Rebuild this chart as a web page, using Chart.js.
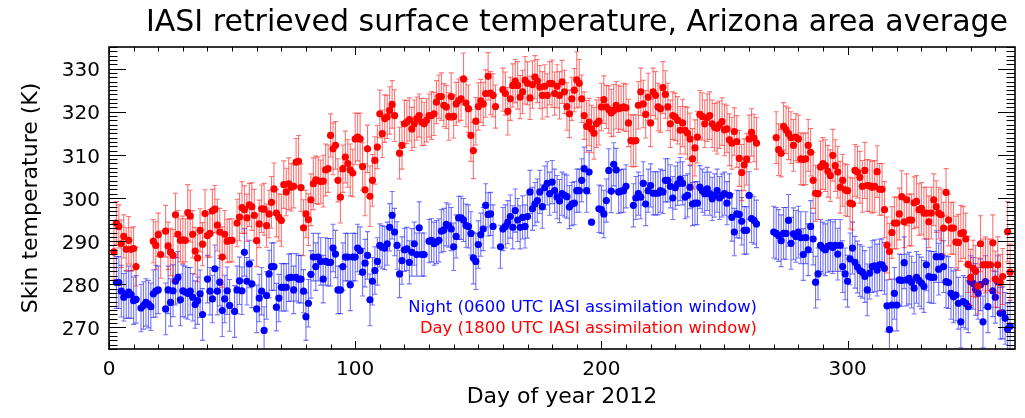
<!DOCTYPE html>
<html>
<head>
<meta charset="utf-8">
<script src="https://cdn.jsdelivr.net/npm/chart.js@4.4.1/dist/chart.umd.min.js"></script>
<style>
  html, body { margin: 0; padding: 0; background: #fff; }
  canvas { display: block; }
</style>
</head>
<body>
<canvas id="chart" width="1025" height="418"></canvas>
<script>
// Text drawn on the figure
const chartTitle = 'IASI retrieved surface temperature, Arizona area average';
const xAxisTitle = 'Day of year 2012';
const yAxisTitle = 'Skin temperature (K)';
const nightLabel = 'Night (0600 UTC IASI assimilation window)';
const dayLabel = 'Day (1800 UTC IASI assimilation window)';

// Axis ranges and labelled ticks
const xRange = [0, 368];
const yRange = [265, 335];
const xTicks = [0, 100, 200, 300];
const yTicks = [270, 280, 290, 300, 310, 320, 330];

// Night (0600 UTC) skin temperature, K, one value per day of year (null = no retrieval)
const nightTemps = [
  null, null, 280.4, 280.4, 278.4, 277.0, 277.6, 278.2, 277.6, 276.2,
  276.5, null, 274.5, 275.1, 275.8, 275.4, 274.8, 277.8, 278.4, 278.7,
  null, null, 274.3, 278.7, 275.8, 278.5, 280.7, 281.6, 276.4, 278.5,
  278.2, 277.9, 278.4, 277.0, 275.3, 276.2, 277.8, 273.0, null, 281.2,
  278.4, 276.6, 283.6, 278.4, 280.5, 273.9, 276.6, 278.5, 275.1, null,
  273.7, 278.7, 280.8, 278.5, 287.4, 280.7, 284.7, 280.1, null, 274.3,
  276.8, 278.4, 269.3, 277.4, 282.4, 284.1, 284.1, 274.7, 276.8, 279.3,
  279.3, 279.3, 281.5, 281.6, 278.7, 281.6, 281.2, 281.2, 278.4, 272.5,
  275.6, 282.3, 286.3, 284.1, 286.3, 285.3, 281.2, 285.3, 285.1, 285.1,
  288.4, 287.0, 278.7, 278.7, 284.1, 286.3, 286.3, 279.9, 286.3, 286.3,
  288.4, 287.8, 282.8, 284.9, 286.7, 276.4, 280.7, 283.2, 285.3, 289.0,
  288.6, 288.4, 289.4, 293.2, 296.0, 292.1, 289.0, 282.4, 285.5, 288.0,
  288.2, 285.1, 287.4, 289.4, 286.9, 293.1, 286.9, 286.9, null, 290.0,
  290.2, 289.4, 289.8, 290.2, 292.3, 292.6, 293.9, 293.6, 292.8, 288.7,
  291.1, 295.4, 295.4, 294.9, 293.6, 293.4, 291.8, 286.1, 285.3, 289.2,
  291.5, 292.8, 298.3, 296.2, 296.3, 293.4, null, null, 288.7, 292.8,
  293.4, 294.4, 295.7, 293.2, 297.1, 294.9, 293.2, 295.5, 293.4, 295.7,
  301.4, 297.5, 298.6, 299.4, 301.4, 298.0, 302.4, 303.4, 301.0, 303.7,
  301.7, 300.2, 299.3, 301.0, 300.6, 300.3, 297.9, 298.6, 298.8, 301.7,
  301.7, 304.1, 306.8, 301.7, 306.0, 294.4, null, null, 297.5, 297.3,
  296.3, 299.4, 306.4, 301.6, 307.8, 306.5, 301.4, 301.6, 301.7, 302.7,
  null, null, 298.3, 300.0, 301.0, 300.2, 303.4, 298.6, 301.7, 302.9,
  301.1, 301.1, 301.1, 301.7, 301.4, 304.1, 304.1, 302.7, 300.0, 302.4,
  303.3, 304.4, 303.4, 300.2, 300.6, 302.5, 298.6, 298.8, 298.8, 302.5,
  301.7, 301.0, 302.1, 301.0, 299.8, 300.6, 301.7, 300.0, 300.6, 301.0,
  298.8, 300.6, 295.5, 292.1, 296.3, 296.2, 294.6, 292.5, 292.5, 300.6,
  295.2, 294.8, 294.0, null, null, null, null, null, null, 292.1,
  291.8, 291.3, 290.1, 291.8, 291.8, 294.8, 289.5, 291.7, 291.1, 292.1,
  290.8, 286.9, 290.8, 288.0, 293.4, 290.5, 280.5, 282.4, 289.0, 288.4,
  288.0, 288.8, 289.0, 288.5, 289.0, 287.0, 289.0, 284.1, 282.4, 280.7,
  285.9, 288.4, 285.1, 284.0, 283.2, 282.8, 281.8, 278.7, 282.6, 284.1,
  284.3, 283.3, 284.5, 284.5, 283.7, 275.0, 269.5, 275.2, 277.9, 275.2,
  281.0, 280.9, 285.0, 281.0, 281.4, 280.5, 279.1, 281.6, 280.9, 280.3,
  279.5, 284.5, 281.8, 281.6, 281.6, 286.4, 283.5, 286.4, 284.1, 280.6,
  280.4, 277.9, 277.1, 277.5, 275.6, 271.3, 276.0, 275.6, 274.8, 280.6,
  280.2, 278.8, 277.9, 279.9, 271.3, 280.6, 274.8, null, 278.5, 277.0,
  280.6, 273.3, 273.4, 272.1, 269.6, 270.3
];

// Night half-width of the error bar, K
const nightErr = [
  0, 0, 6, 6, 6, 5.5, 5.5, 6, 5.5, 5.5,
  5.5, 0, 5.5, 5.5, 5.5, 5.5, 5.5, 5.5, 6, 5.5,
  0, 0, 6, 5.5, 5.5, 6, 5.5, 6, 6, 6,
  6, 6, 5.5, 5.5, 5.5, 5.5, 5.5, 6, 0, 5.5,
  5.5, 5.5, 5.5, 5.5, 5.5, 6, 5.5, 5.5, 6, 0,
  6, 5.5, 5.5, 5.5, 5.5, 5.5, 5.5, 5.5, 0, 5.5,
  5.5, 5.5, 5.5, 5.5, 5.5, 5.5, 5.5, 5.5, 5.5, 5.5,
  5.5, 5.5, 5.5, 5.5, 5.5, 5.5, 5.5, 5.5, 5, 5.5,
  5.5, 5.5, 5.5, 5.5, 5.5, 5.5, 5.5, 5.5, 5.5, 5.5,
  5.5, 5.5, 5.5, 5.5, 5.5, 5.5, 5.5, 6, 5.5, 5.5,
  5.5, 5.5, 5.5, 5.5, 5.5, 6, 5.5, 5.5, 5.5, 5,
  5, 5, 5, 5.5, 5.5, 5.5, 5.5, 5.5, 5.5, 5,
  5, 5, 5.5, 5, 5, 6, 5, 5, 0, 5,
  5, 5, 5, 5, 5, 5, 5, 5, 5, 5.5,
  5, 5, 5, 5, 5, 5, 5, 6, 6.5, 5.5,
  5, 5, 5, 5, 5, 5, 0, 0, 5, 5,
  5, 5, 5, 5, 5, 5, 5, 5, 5, 5,
  5, 5, 5, 5, 5, 5, 5, 5, 5, 5,
  5, 5, 5, 5, 5, 5, 5, 5, 5, 5,
  5, 5, 5, 5, 5, 0, 0, 0, 5.5, 5.5,
  5.5, 5, 5, 5, 5, 5, 5, 5, 5, 5,
  0, 0, 5, 5, 5, 5, 5, 5, 5, 5,
  5, 5, 5, 5, 5, 5, 5, 5, 5, 5,
  5, 5, 5, 5, 5, 5, 5, 5, 5, 5,
  5, 5, 5, 5, 5, 5, 5, 5, 5, 5,
  5, 5, 5.5, 5.5, 5.5, 5.5, 5.5, 5.5, 5.5, 5.5,
  5.5, 5.5, 5.5, 0, 0, 0, 0, 0, 0, 6,
  6, 6, 6, 6, 6, 6, 6, 6, 6, 6,
  6, 6, 6, 6, 6, 6, 6, 6, 6, 6,
  6, 6, 6, 6, 6, 6, 6, 6, 6, 6,
  6, 6, 6, 6, 6, 6, 6, 6, 6, 6,
  6, 6, 6, 6, 6, 6, 6, 6, 6, 6,
  6, 6, 6, 6, 6, 6, 6, 6, 6, 6,
  6, 6, 6, 6, 6, 6, 6, 6, 6, 6,
  6, 6, 6, 6, 6, 6, 6, 6, 6, 6,
  6, 6, 6, 6, 6, 6, 6, 0, 6, 6,
  6, 6, 6, 6, 6, 6
];

// Day (1800 UTC) skin temperature, K, one value per day of year (null = no retrieval)
const dayTemps = [
  null, 287.5, 294.2, 293.4, 289.4, 291.1, 288.1, 290.2, 288.1, 288.3,
  284.1, null, null, null, null, null, null, 290.0, 289.0, 291.5,
  286.9, null, 292.3, 288.9, 287.5, 286.7, 296.1, 291.6, 290.2, 290.3,
  290.2, 296.6, 295.8, 291.6, 287.7, 286.1, 292.5, 289.3, 296.4, 291.3,
  291.8, 297.0, 297.4, 293.7, 292.1, 286.3, 291.6, 290.0, 290.2, 290.2,
  null, 294.2, 295.6, 297.8, 297.3, 295.4, 298.4, 298.0, 296.0, 290.1,
  294.0, 297.5, 297.4, 293.6, 296.3, 299.0, 302.1, 296.5, 295.5, 294.8,
  303.1, 301.4, 303.3, 302.5, 302.7, 308.3, 308.5, 302.4, 293.1, 296.3,
  295.0, 299.6, 303.3, 304.2, 304.0, 303.8, 303.9, 306.5, 306.8, 314.5,
  311.4, 312.2, 304.1, 300.2, 306.8, 309.5, 308.0, 306.5, 305.8, 313.7,
  314.1, 313.7, 307.3, 301.9, 311.4, 300.4, 304.1, 308.7, 311.8, 319.5,
  314.9, 318.4, 318.8, 320.3, 321.7, 319.1, null, 310.4, 312.2, 317.2,
  317.6, 318.2, 316.0, 317.2, 318.4, 319.1, 317.6, 317.2, 318.0, 319.1,
  319.1, 319.5, 322.2, 323.5, 323.5, 321.5, 321.1, 318.9, 323.5, 318.9,
  321.8, 322.6, 323.0, 327.6, 322.0, 320.7, 314.5, 311.0, 317.8, 321.2,
  322.5, 321.8, 324.2, 328.2, 324.3, 323.8, 321.2, null, null, 325.1,
  324.2, 320.1, 323.0, 326.1, 327.1, 326.1, 323.4, 324.6, 327.3, 326.6,
  323.2, 326.3, 328.0, 327.1, 325.7, 323.8, 325.9, 323.8, 326.6, 326.5,
  324.2, 325.9, 323.8, 326.9, 324.6, 321.2, 319.5, 323.0, 325.0, 327.4,
  326.6, 323.0, 319.1, 316.6, 317.6, 316.0, 315.0, 317.2, 317.8, 321.1,
  322.8, 321.1, 320.5, 319.7, 320.3, 321.5, 320.7, 320.9, 321.1, 320.9,
  317.4, 313.3, 313.2, 313.3, 321.5, 324.6, 321.8, 319.4, 323.4, 317.4,
  324.6, 323.8, 321.1, 320.7, 325.6, 324.0, 321.1, 317.2, 319.1, 318.8,
  318.0, 315.7, 317.4, 315.7, 315.0, 313.7, 309.1, 311.6, 314.1, 319.4,
  318.9, 317.2, 318.6, 319.1, 317.2, 316.4, 316.2, 317.0, 317.7, 315.8,
  316.0, 313.5, 312.7, 315.4, 313.1, 309.2, 305.9, 307.7, 309.0, 313.7,
  315.2, 313.9, 312.7, null, null, null, null, null, null, null,
  314.0, 311.2, 310.4, 316.6, 315.8, 314.9, 314.0, 312.2, 314.1, 313.7,
  309.1, 308.9, 309.1, 312.2, 310.6, 304.1, 301.1, 301.0, 307.2, 308.0,
  307.5, 306.2, 305.2, 309.9, 307.5, 306.0, 302.5, 304.1, 301.9, 301.7,
  298.8, 298.6, 306.4, 306.0, 304.8, 302.7, 306.4, 302.9, 302.8, 302.5,
  302.7, 306.1, 302.0, 302.0, 297.3, 289.1, 287.6, 292.0, 294.2, 294.2,
  296.3, 300.3, 294.5, 299.6, 294.9, 294.9, 298.9, 299.2, 297.3, 297.6,
  296.5, 296.5, 294.5, 296.5, 299.6, 298.0, 296.5, 296.1, 293.0, 301.3,
  294.9, 293.0, 293.0, 289.8, 289.7, 291.8, 292.0, 290.5, 284.6, 281.6,
  283.7, 283.0, 279.6, 289.4, 284.5, 284.5, 284.5, 284.5, 289.6, 281.2,
  284.5, 280.4, 281.8, null, 292.2, 282.8
];

// Day half-width of the error bar, K
const dayErr = [
  0, 6.5, 5, 5, 5.5, 5, 5, 5.5, 5, 5,
  4.5, 0, 0, 0, 0, 0, 0, 5, 5.5, 5,
  5.5, 0, 6, 5.5, 5.5, 6, 5, 5.5, 5, 5.5,
  5, 6.5, 6, 5.5, 5.5, 5.5, 5, 5, 5.5, 5,
  5.5, 5, 5.5, 6, 5.5, 7, 5.5, 5, 5, 5,
  0, 5.5, 5.5, 6, 5.5, 5.5, 5, 5.5, 6, 6,
  5.5, 5.5, 6, 5, 5.5, 6, 6, 5.5, 5.5, 6,
  5.5, 5.5, 6, 5.5, 5, 5.5, 6, 5.5, 6.5, 5.5,
  6, 6, 6, 5.5, 5.5, 5, 6, 6, 5.5, 5,
  6, 5.5, 5, 6, 5.5, 6, 5.5, 6, 5.5, 6,
  5.5, 6, 5.5, 6, 5.5, 7, 6, 5.5, 5, 5.5,
  5.5, 5.5, 5, 5.5, 5.5, 6, 0, 6, 5.5, 5.5,
  5, 5, 5, 5.5, 5, 5, 5.5, 5, 5, 5,
  5.5, 5, 5, 5, 5.5, 5, 5, 5.5, 5.5, 5,
  5, 5, 5, 6, 5.5, 5.5, 6, 6.5, 5.5, 5.5,
  5, 5, 5.5, 5.5, 5, 5, 5, 0, 0, 5,
  5, 5.5, 5, 5, 5, 5.5, 5, 5, 5.5, 5,
  5, 5.5, 5, 5, 5, 5.5, 5, 5, 5, 5.5,
  5, 5, 5.5, 5, 5, 5.5, 5.5, 5, 5, 6.5,
  5.5, 5.5, 5.5, 6, 5.5, 5.5, 6, 5.5, 5.5, 5.5,
  5.5, 5, 5.5, 5.5, 6, 5.5, 5.5, 5, 5.5, 5.5,
  5.5, 6, 6, 6, 5.5, 5.5, 5.5, 5.5, 5.5, 5.5,
  5.5, 5.5, 5.5, 5.5, 6, 5.5, 5.5, 5.5, 5.5, 5.5,
  5.5, 5.5, 5.5, 5.5, 6, 6, 7, 6.5, 6, 5.5,
  5.5, 5.5, 5.5, 5.5, 5.5, 5.5, 6, 5.5, 5.5, 6,
  5.5, 6, 6, 5.5, 6, 6.5, 6.5, 6, 6, 5.5,
  5.5, 5.5, 6, 0, 0, 0, 0, 0, 0, 0,
  6, 6, 5.5, 5.5, 5.5, 6, 6, 6, 5.5, 5.5,
  6, 6, 6, 6, 5.5, 6.5, 6.5, 6, 6, 6,
  6, 6, 6, 6, 6, 6, 6, 6, 6, 6,
  6, 6, 6, 6, 6, 6, 6.5, 6, 6, 6,
  6, 6, 6, 6, 6.5, 6.5, 6.5, 6, 6, 6,
  6, 6, 6, 6, 6, 6, 6, 6, 6, 6,
  6, 6, 6, 6, 6, 6, 6, 6, 6, 5.5,
  6, 6, 6, 6, 6.5, 6.5, 6, 6, 6.5, 6.5,
  6.5, 6, 6.5, 6.5, 6, 6.5, 6, 6, 6.5, 6.5,
  6.5, 6.5, 6.5, 0, 7, 6.5
];

// Day-of-year index shared by both series (1 = 1 January 2012)
const dayOfYear = nightTemps.map((_, i) => i + 1);

function toPoints(temps, errs) {
  const pts = [];
  temps.forEach((t, i) => {
    if (t !== null) pts.push({ x: dayOfYear[i], y: t, err: errs[i] });
  });
  return pts;
}

const FONT = "'DejaVu Sans', 'Liberation Sans', sans-serif";
Chart.defaults.font.family = FONT;
Chart.defaults.color = '#000';

// Vertical error bars with caps, drawn just before each dataset's markers
const errorBars = {
  id: 'errorBars',
  beforeDatasetDraw(chart, args) {
    const ds = chart.data.datasets[args.index];
    const yScale = chart.scales.y;
    const area = chart.chartArea;
    const ctx = chart.ctx;
    ctx.save();
    ctx.beginPath();
    ctx.rect(area.left, area.top, area.right - area.left, area.bottom - area.top);
    ctx.clip();
    ctx.strokeStyle = ds.errorBarColor;
    ctx.lineWidth = 1.1;
    args.meta.data.forEach((el, i) => {
      const d = ds.data[i];
      if (!d.err) return;
      const x = el.x;
      const top = yScale.getPixelForValue(d.y + d.err);
      const bot = yScale.getPixelForValue(d.y - d.err);
      ctx.beginPath();
      ctx.moveTo(x, top); ctx.lineTo(x, bot);
      ctx.moveTo(x - 2.5, top); ctx.lineTo(x + 2.5, top);
      ctx.moveTo(x - 2.5, bot); ctx.lineTo(x + 2.5, bot);
      ctx.stroke();
    });
    ctx.restore();
  }
};

// Boxed frame with inward major/minor ticks on all four sides
const frameTicks = {
  id: 'frameTicks',
  afterDatasetsDraw(chart) {
    const { ctx, chartArea: a, scales: { x, y } } = chart;
    const xMajor = new Set(xTicks);
    const yMajor = new Set(yTicks);
    ctx.save();
    ctx.strokeStyle = '#000';
    ctx.lineWidth = 1;
    ctx.beginPath();
    for (let d = x.min; d <= x.max; d += 10) {
      const px = Math.round(x.getPixelForValue(d)) + 0.5;
      const len = xMajor.has(d) ? 8 : 4.5;
      ctx.moveTo(px, a.bottom); ctx.lineTo(px, a.bottom - len);
      ctx.moveTo(px, a.top); ctx.lineTo(px, a.top + len);
    }
    for (let v = Math.ceil(y.min); v <= y.max; v += 1) {
      const py = Math.round(y.getPixelForValue(v)) + 0.5;
      const len = yMajor.has(v) ? 17 : 8.5;
      ctx.moveTo(a.left, py); ctx.lineTo(a.left + len, py);
      ctx.moveTo(a.right, py); ctx.lineTo(a.right - len, py);
    }
    ctx.stroke();
    ctx.lineWidth = 1.6;
    ctx.strokeRect(a.left, a.top, a.right - a.left, a.bottom - a.top);
    ctx.restore();
  }
};

// Chart title and the two-line series key inside the plot
const annotations = {
  id: 'annotations',
  afterDraw(chart) {
    const ctx = chart.ctx;
    ctx.save();
    ctx.textBaseline = 'alphabetic';
    ctx.fillStyle = '#000';
    ctx.font = '30px ' + FONT;
    ctx.textAlign = 'center';
    ctx.fillText(chartTitle, 577, 31);
    ctx.font = '16.4px ' + FONT;
    ctx.textAlign = 'right';
    ctx.fillStyle = '#0000ff';
    ctx.fillText(nightLabel, 757, 312);
    ctx.fillStyle = '#ff0000';
    ctx.fillText(dayLabel, 757, 333);
    ctx.restore();
  }
};

new Chart(document.getElementById('chart'), {
  type: 'scatter',
  data: {
    datasets: [
      {
        label: nightLabel,
        data: toPoints(nightTemps, nightErr),
        backgroundColor: '#0000ff',
        borderColor: '#0000ff',
        errorBarColor: 'rgba(0, 0, 255, 0.55)',
        pointRadius: 3.6,
        pointBorderWidth: 0,
        order: 2
      },
      {
        label: dayLabel,
        data: toPoints(dayTemps, dayErr),
        backgroundColor: '#ff0000',
        borderColor: '#ff0000',
        errorBarColor: 'rgba(255, 0, 0, 0.55)',
        pointRadius: 3.6,
        pointBorderWidth: 0,
        order: 1
      }
    ]
  },
  options: {
    responsive: false,
    animation: false,
    events: [],
    layout: { padding: { top: 47, right: 10, bottom: 0, left: 0 } },
    plugins: {
      legend: { display: false },
      tooltip: { enabled: false },
      title: { display: false }
    },
    scales: {
      x: {
        type: 'linear',
        position: 'bottom',
        min: xRange[0],
        max: xRange[1],
        grid: { display: false, drawTicks: false },
        border: { display: false },
        afterBuildTicks(scale) { scale.ticks = xTicks.map(v => ({ value: v })); },
        ticks: {
          autoSkip: false,
          maxRotation: 0,
          padding: 9,
          font: { size: 20 }
        },
        title: {
          display: true,
          text: xAxisTitle,
          font: { size: 22 },
          padding: { top: 4, bottom: 8 }
        },
        afterFit(scale) { scale.height = 69; }
      },
      y: {
        type: 'linear',
        position: 'left',
        min: yRange[0],
        max: yRange[1],
        grid: { display: false, drawTicks: false },
        border: { display: false },
        afterBuildTicks(scale) { scale.ticks = yTicks.map(v => ({ value: v })); },
        ticks: {
          autoSkip: false,
          padding: 9,
          labelOffset: 2.5,
          font: { size: 20 }
        },
        title: {
          display: true,
          text: yAxisTitle,
          font: { size: 22 },
          padding: { top: 18, bottom: 4 }
        },
        afterFit(scale) { scale.width = 109; }
      }
    }
  },
  plugins: [errorBars, frameTicks, annotations]
});
</script>
</body>
</html>
